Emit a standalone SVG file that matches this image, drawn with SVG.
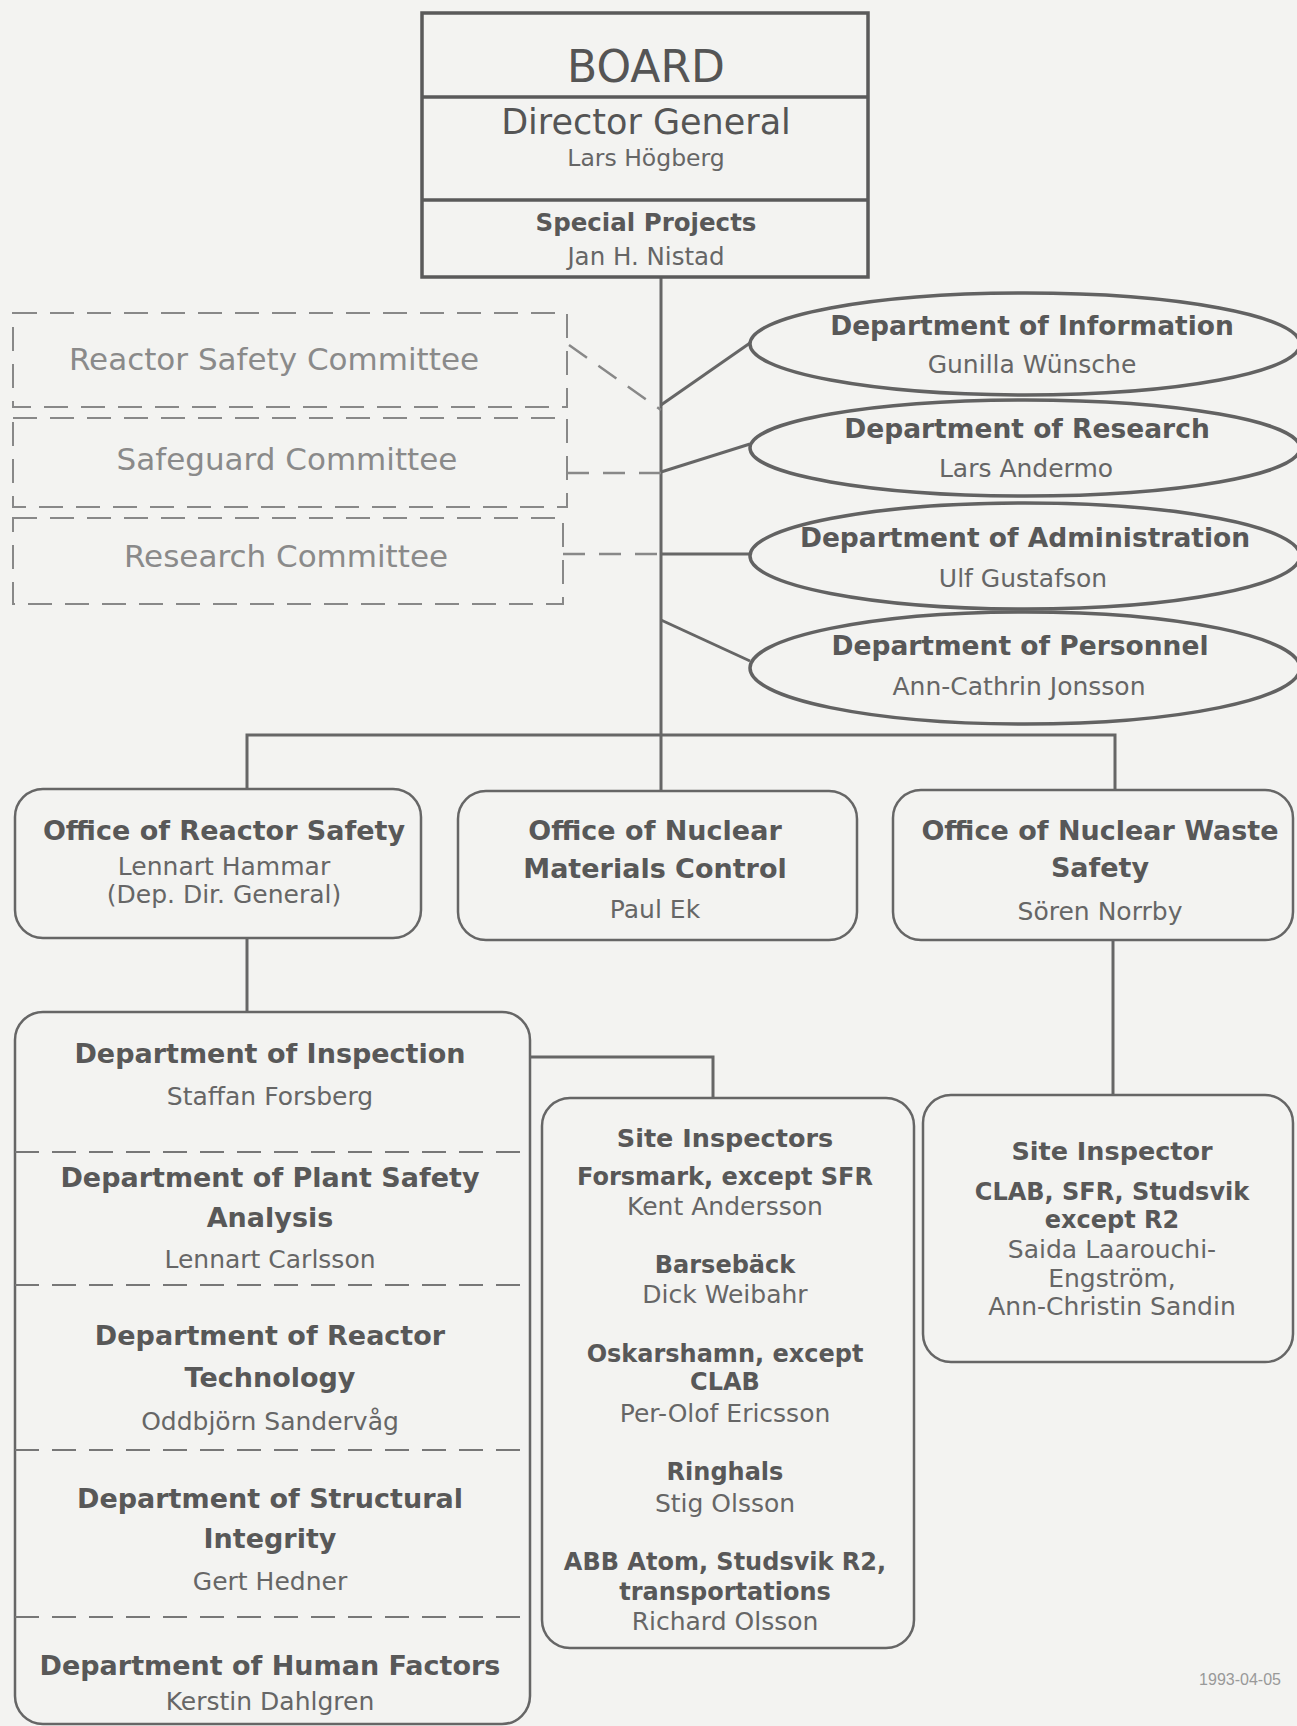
<svg xmlns="http://www.w3.org/2000/svg" width="1297" height="1726" viewBox="0 0 1297 1726">
<style>
text{font-family:"DejaVu Sans","Liberation Sans",sans-serif;text-anchor:middle}
.t{font-weight:bold;font-size:27px;fill:#585858}
.n{font-size:25px;fill:#666}
.s{font-weight:bold;font-size:24px;fill:#585858}
.c{font-size:31px;fill:#8a8a8a}
.box{fill:none;stroke:#666;stroke-width:2.5}
.ell{fill:none;stroke:#626262;stroke-width:3.5}
.board{fill:none;stroke:#5a5a5a;stroke-width:3.5}
.dash{fill:none;stroke:#888;stroke-width:2;stroke-dasharray:24 13}
.sep{fill:none;stroke:#777;stroke-width:2;stroke-dasharray:24 13}
.ln{fill:none;stroke:#666;stroke-width:3}
.dl{fill:none;stroke:#888;stroke-width:2.5;stroke-dasharray:22 14}
</style>
<rect x="0" y="0" width="1297" height="1726" fill="#f3f3f1"/>

<g id="connectors">
<path class="ln" d="M661 277 V792"/>
<path class="ln" d="M661 405 L750 343"/>
<path class="ln" d="M661 472 L750 444"/>
<path class="ln" d="M661 554 H750"/>
<path class="ln" d="M661 620 L750 661"/>
<path class="ln" d="M247 789 V735 H1115 V790"/>
<path class="ln" d="M247 938 V1012"/>
<path class="ln" d="M530 1057 H713 V1098"/>
<path class="ln" d="M1113 940 V1095"/>
<path class="dl" d="M569 345 L661 410"/>
<path class="dl" d="M567 473 H661"/>
<path class="dl" d="M563 554 H661"/>
</g>

<g id="board">
<rect class="board" x="422" y="13" width="446" height="264"/>
<line class="board" x1="422" y1="97" x2="868" y2="97"/>
<line class="board" x1="422" y1="200" x2="868" y2="200"/>
<text x="646" y="82" style="font-size:44px;fill:#555">BOARD</text>
<text x="646" y="134" style="font-size:35px;fill:#555">Director General</text>
<text x="646" y="166" class="n" style="font-size:23.5px">Lars Högberg</text>
<text x="646" y="231" class="s" style="font-size:24.5px">Special Projects</text>
<text x="646" y="265" class="n" style="font-size:24.5px">Jan H. Nistad</text>
</g>

<g id="reactor-safety-committee">
<rect class="dash" x="13" y="313" width="554" height="94"/>
<text x="274" y="370" class="c">Reactor Safety Committee</text>
</g>
<g id="safeguard-committee">
<rect class="dash" x="13" y="418" width="554" height="89"/>
<text x="287" y="470" class="c">Safeguard Committee</text>
</g>
<g id="research-committee">
<rect class="dash" x="13" y="518" width="550" height="86"/>
<text x="286" y="567" class="c">Research Committee</text>
</g>

<g id="dept-information">
<ellipse class="ell" cx="1025" cy="344" rx="275" ry="51"/>
<text x="1032" y="335" class="t" style="font-size:26.5px">Department of Information</text>
<text x="1032" y="373" class="n">Gunilla Wünsche</text>
</g>
<g id="dept-research">
<ellipse class="ell" cx="1025" cy="448" rx="275" ry="48"/>
<text x="1027" y="438" class="t" style="font-size:26.5px">Department of Research</text>
<text x="1026" y="477" class="n">Lars Andermo</text>
</g>
<g id="dept-administration">
<ellipse class="ell" cx="1025" cy="556" rx="275" ry="53"/>
<text x="1025" y="547" class="t" style="font-size:26.5px">Department of Administration</text>
<text x="1023" y="587" class="n">Ulf Gustafson</text>
</g>
<g id="dept-personnel">
<ellipse class="ell" cx="1025" cy="668" rx="275" ry="56"/>
<text x="1020" y="655" class="t" style="font-size:26.5px">Department of Personnel</text>
<text x="1019" y="695" class="n">Ann-Cathrin Jonsson</text>
</g>

<g id="office-reactor-safety">
<rect class="box" x="15" y="789" width="406" height="149" rx="28"/>
<text x="224" y="840" class="t">Office of Reactor Safety</text>
<text x="224" y="875" class="n">Lennart Hammar</text>
<text x="224" y="903" class="n">(Dep. Dir. General)</text>
</g>
<g id="office-nuclear-materials">
<rect class="box" x="458" y="791" width="399" height="149" rx="28"/>
<text x="655" y="840" class="t">Office of Nuclear</text>
<text x="655" y="878" class="t">Materials Control</text>
<text x="655" y="918" class="n">Paul Ek</text>
</g>
<g id="office-nuclear-waste">
<rect class="box" x="893" y="790" width="400" height="150" rx="28"/>
<text x="1100" y="840" class="t">Office of Nuclear Waste</text>
<text x="1100" y="877" class="t">Safety</text>
<text x="1100" y="920" class="n">Sören Norrby</text>
</g>

<g id="reactor-departments">
<rect class="box" x="15" y="1012" width="515" height="712" rx="28"/>
<line class="sep" x1="15" y1="1152" x2="530" y2="1152"/>
<line class="sep" x1="15" y1="1285" x2="530" y2="1285"/>
<line class="sep" x1="15" y1="1450" x2="530" y2="1450"/>
<line class="sep" x1="15" y1="1617" x2="530" y2="1617"/>
<text x="270" y="1063" class="t">Department of Inspection</text>
<text x="270" y="1105" class="n">Staffan Forsberg</text>
<text x="270" y="1187" class="t">Department of Plant Safety</text>
<text x="270" y="1227" class="t">Analysis</text>
<text x="270" y="1268" class="n">Lennart Carlsson</text>
<text x="270" y="1345" class="t">Department of Reactor</text>
<text x="270" y="1387" class="t">Technology</text>
<text x="270" y="1430" class="n">Oddbjörn Sandervåg</text>
<text x="270" y="1508" class="t">Department of Structural</text>
<text x="270" y="1548" class="t">Integrity</text>
<text x="270" y="1590" class="n">Gert Hedner</text>
<text x="270" y="1675" class="t">Department of Human Factors</text>
<text x="270" y="1710" class="n">Kerstin Dahlgren</text>
</g>

<g id="site-inspectors">
<rect class="box" x="542" y="1098" width="372" height="550" rx="28"/>
<text x="725" y="1147" class="s" style="font-size:25.5px">Site Inspectors</text>
<text x="725" y="1185" class="s">Forsmark, except SFR</text>
<text x="725" y="1215" class="n">Kent Andersson</text>
<text x="725" y="1273" class="s">Barsebäck</text>
<text x="725" y="1303" class="n">Dick Weibahr</text>
<text x="725" y="1362" class="s">Oskarshamn, except</text>
<text x="725" y="1390" class="s">CLAB</text>
<text x="725" y="1422" class="n">Per-Olof Ericsson</text>
<text x="725" y="1480" class="s">Ringhals</text>
<text x="725" y="1512" class="n">Stig Olsson</text>
<text x="725" y="1570" class="s">ABB Atom, Studsvik R2,</text>
<text x="725" y="1600" class="s">transportations</text>
<text x="725" y="1630" class="n">Richard Olsson</text>
</g>

<g id="site-inspector-waste">
<rect class="box" x="923" y="1095" width="370" height="267" rx="28"/>
<text x="1112" y="1160" class="s" style="font-size:25.5px">Site Inspector</text>
<text x="1112" y="1200" class="s">CLAB, SFR, Studsvik</text>
<text x="1112" y="1228" class="s">except R2</text>
<text x="1112" y="1258" class="n">Saida Laarouchi-</text>
<text x="1112" y="1287" class="n">Engström,</text>
<text x="1112" y="1315" class="n">Ann-Christin Sandin</text>
</g>

<text x="1240" y="1685" style="font-size:16px;fill:#999;font-family:'Liberation Sans',sans-serif">1993-04-05</text>
</svg>
